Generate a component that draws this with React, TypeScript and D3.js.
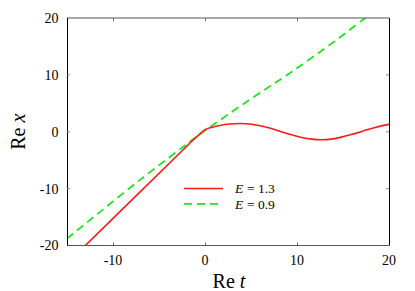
import React, { useEffect, useRef } from 'react'
import * as d3 from 'd3'

// Re t / Re x
const redT = [-13.2, -2.4, -1.4, -0.7, 0.0, 0.8, 1.6, 2.7, 3.8, 4.9, 6.0, 7.1, 8.2, 9.3, 10.5, 11.6, 12.6, 13.7, 14.8, 16.0, 17.2, 18.6, 20.0]
const redX = [-20.3, -3.2, -1.6, -0.6, 0.35, 0.8, 1.1, 1.35, 1.45, 1.35, 1.05, 0.6, 0.05, -0.5, -1.0, -1.3, -1.4, -1.3, -0.95, -0.45, 0.15, 0.8, 1.3]

const greenT = [-15.0, -7.1, -1.1, 0.0, 5.0, 9.2, 14.0, 17.0, 17.5]
const greenX = [-18.8, -8.5, -1.1, 0.2, 5.8, 10.3, 15.8, 19.5, 20.1]

const xTicks = [-10, 0, 10, 20]
const yTicks = [-20, -10, 0, 10, 20]

const legendLabels = ['= 1.3', '= 0.9']
const seriesColors = ['#ff1a1a', '#1ee61e']

const W = 415
const H = 291

const Chart = () => {
  const svgRef = useRef<SVGSVGElement>(null)

  useEffect(() => {
    const svgEl = d3.select(svgRef.current)
    svgEl.selectAll('*').remove()

    const margin = { top: 18, right: 26, bottom: 45.5, left: 67 }
    const width = W - margin.left - margin.right
    const height = H - margin.top - margin.bottom
    const font = '"Liberation Serif", "DejaVu Serif", serif'

    const svg = svgEl.attr('width', W).attr('height', H)

    const x = d3.scaleLinear().domain([-15, 20]).range([margin.left, margin.left + width])
    const y = d3.scaleLinear().domain([-20, 20]).range([margin.top + height, margin.top])

    svg.append('defs').append('clipPath').attr('id', 'plot-clip')
      .append('rect')
      .attr('x', margin.left)
      .attr('y', margin.top)
      .attr('width', width)
      .attr('height', height)

    // curves
    const line = d3.line<[number, number]>()
      .x(d => x(d[0]))
      .y(d => y(d[1]))
      .curve(d3.curveCatmullRom.alpha(0.5))

    const redData = redT.map((t, i) => [t, redX[i]] as [number, number])
    const greenData = greenT.map((t, i) => [t, greenX[i]] as [number, number])

    const plot = svg.append('g').attr('clip-path', 'url(#plot-clip)')

    plot.append('path')
      .attr('d', line(greenData))
      .attr('fill', 'none')
      .attr('stroke', seriesColors[1])
      .attr('stroke-width', 1.8)
      .attr('stroke-dasharray', '8,5')

    plot.append('path')
      .attr('d', line(redData))
      .attr('fill', 'none')
      .attr('stroke', seriesColors[0])
      .attr('stroke-width', 1.6)

    // frame
    const frame = svg.append('g')
    frame.append('line')
      .attr('x1', margin.left).attr('x2', margin.left + width)
      .attr('y1', margin.top).attr('y2', margin.top)
      .attr('stroke', '#555').attr('stroke-width', 1.2)
    frame.append('line')
      .attr('x1', margin.left).attr('x2', margin.left + width)
      .attr('y1', margin.top + height).attr('y2', margin.top + height)
      .attr('stroke', '#555').attr('stroke-width', 1.2)
    frame.append('line')
      .attr('x1', margin.left + 0.5).attr('x2', margin.left + 0.5)
      .attr('y1', margin.top).attr('y2', margin.top + height)
      .attr('stroke', '#000').attr('stroke-width', 1)
    frame.append('line')
      .attr('x1', margin.left + width + 0.5).attr('x2', margin.left + width + 0.5)
      .attr('y1', margin.top).attr('y2', margin.top + height)
      .attr('stroke', '#000').attr('stroke-width', 1)

    // inward ticks
    const tickLen = 3
    xTicks.filter(d => d < 20).forEach(d => {
      frame.append('line')
        .attr('x1', Math.round(x(d)) + 0.5).attr('x2', Math.round(x(d)) + 0.5)
        .attr('y1', margin.top + height).attr('y2', margin.top + height - tickLen)
        .attr('stroke', '#666')
      frame.append('line')
        .attr('x1', Math.round(x(d)) + 0.5).attr('x2', Math.round(x(d)) + 0.5)
        .attr('y1', margin.top).attr('y2', margin.top + tickLen)
        .attr('stroke', '#666')
    })
    yTicks.filter(d => d > -20 && d < 20).forEach(d => {
      frame.append('line')
        .attr('x1', margin.left).attr('x2', margin.left + tickLen)
        .attr('y1', y(d)).attr('y2', y(d))
        .attr('stroke', '#888')
      frame.append('line')
        .attr('x1', margin.left + width).attr('x2', margin.left + width - tickLen)
        .attr('y1', y(d)).attr('y2', y(d))
        .attr('stroke', '#888')
    })

    // tick labels
    svg.append('g').selectAll('text')
      .data(yTicks)
      .enter()
      .append('text')
      .attr('x', 58.5)
      .attr('y', d => y(d))
      .attr('dy', '0.35em')
      .attr('text-anchor', 'end')
      .style('font-family', font)
      .style('font-size', '14px')
      .text(d => d)

    svg.append('g').selectAll('text')
      .data(xTicks)
      .enter()
      .append('text')
      .attr('x', d => x(d))
      .attr('y', 265)
      .attr('text-anchor', 'middle')
      .style('font-family', font)
      .style('font-size', '14px')
      .text(d => d)

    // axis titles
    const xTitle = svg.append('text')
      .attr('x', 229)
      .attr('y', 288)
      .attr('text-anchor', 'middle')
      .style('font-family', font)
      .style('font-size', '20px')
    xTitle.append('tspan').text('Re ')
    xTitle.append('tspan').style('font-style', 'italic').text('t')

    const yTitle = svg.append('text')
      .attr('transform', `translate(25,${y(0)}) rotate(-90)`)
      .attr('text-anchor', 'middle')
      .style('font-family', font)
      .style('font-size', '20px')
    yTitle.append('tspan').text('Re ')
    yTitle.append('tspan').style('font-style', 'italic').text('x')

    // legend
    const legend = svg.append('g')
      .selectAll('g')
      .data(legendLabels)
      .enter()
      .append('g')
      .attr('transform', (d, i) => `translate(0,${188.5 + i * 15.3})`)

    legend.append('line')
      .attr('x1', 184).attr('x2', 223)
      .attr('stroke', (d, i) => seriesColors[i])
      .attr('stroke-width', (d, i) => (i === 0 ? 1.6 : 1.8))
      .attr('stroke-dasharray', (d, i) => (i === 0 ? null : '8,5'))

    legend.append('text')
      .attr('x', 235)
      .attr('dy', '0.35em')
      .style('font-family', font)
      .style('font-size', '13.5px')
      .style('font-style', 'italic')
      .text('E')

    legend.append('text')
      .attr('x', 247)
      .attr('dy', '0.35em')
      .style('font-family', font)
      .style('font-size', '13.5px')
      .text(d => d)
  }, [])

  return <svg ref={svgRef} style={{ position: 'absolute', left: 0, top: 0, background: '#fff' }}></svg>
}

export default function App() {
  return <Chart />
}
